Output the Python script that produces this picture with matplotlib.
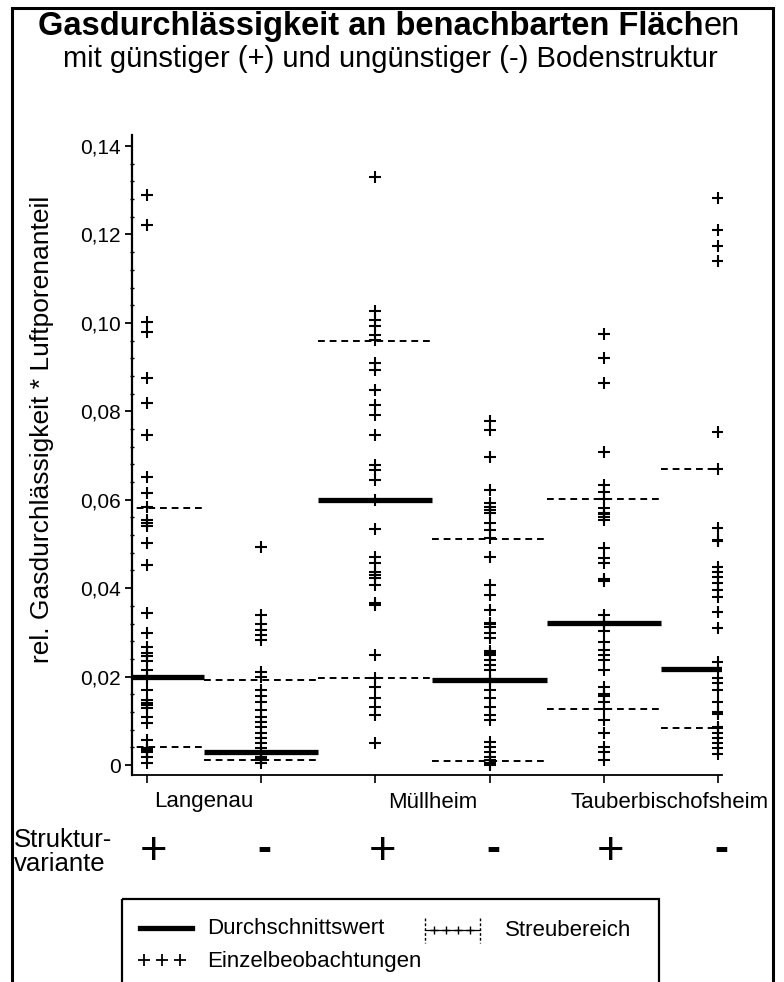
import matplotlib
matplotlib.use('Agg')
import matplotlib.pyplot as plt
import matplotlib.transforms as mtransforms
from matplotlib.patches import Rectangle

plt.rcParams['font.family'] = ['Liberation Sans', 'DejaVu Sans']

# Standorte und Strukturvarianten
sites = ['Langenau', 'Müllheim', 'Tauberbischofsheim']
variants = ['+', '-', '+', '-', '+', '-']
positions = [1, 2, 3, 4, 5, 6]

# Einzelbeobachtungen je Variante
lang_p = [0.129, 0.1222, 0.1003, 0.098, 0.0875, 0.0818, 0.0747, 0.0652, 0.0615,
          0.0583, 0.0554, 0.0548, 0.0541, 0.0503, 0.0452, 0.0343, 0.0299, 0.0268,
          0.0253, 0.0246, 0.0236, 0.0215, 0.0200, 0.0196, 0.017, 0.0147, 0.0140,
          0.0135, 0.0128, 0.0109, 0.0094, 0.0057, 0.0038, 0.0034, 0.0030, 0.0019,
          0.0005]
lang_m = [0.0493, 0.0339, 0.032, 0.0305, 0.0294, 0.0283, 0.0211, 0.02, 0.017,
          0.0155, 0.0143, 0.0124, 0.0109, 0.0098, 0.0087, 0.0072, 0.006, 0.0049,
          0.0038, 0.0026, 0.0018, 0.0015, 0.0011, 0.0004]
mull_p = [0.1331, 0.1026, 0.1007, 0.0992, 0.0973, 0.0962, 0.0909, 0.0894, 0.0848,
          0.0814, 0.0792, 0.0747, 0.0679, 0.0667, 0.0645, 0.060, 0.0534, 0.0471,
          0.0456, 0.0437, 0.043, 0.0422, 0.0407, 0.0366, 0.0362, 0.0249, 0.0196,
          0.0177, 0.0151, 0.0132, 0.0113, 0.0049]
mull_m = [0.0777, 0.0758, 0.0697, 0.0622, 0.0592, 0.0584, 0.0577, 0.0569, 0.0547,
          0.0532, 0.0513, 0.0471, 0.0407, 0.0385, 0.0351, 0.0322, 0.0318, 0.0313,
          0.0298, 0.0287, 0.0258, 0.0254, 0.0249, 0.0238, 0.0226, 0.0215, 0.0195,
          0.0190, 0.017, 0.0151, 0.0132, 0.0113, 0.0102, 0.0053, 0.0041, 0.003,
          0.0019, 0.0011, 0.0005, 0.0]
taub_p = [0.0975, 0.092, 0.0864, 0.0707, 0.0633, 0.0618, 0.0601, 0.0581, 0.0571,
          0.0567, 0.0562, 0.0554, 0.049, 0.0468, 0.0456, 0.0421, 0.0417, 0.0339,
          0.0324, 0.0320, 0.0302, 0.0279, 0.026, 0.0249, 0.0238, 0.0215, 0.0177,
          0.0160, 0.0156, 0.0143, 0.0126, 0.0102, 0.0072, 0.0041, 0.003, 0.0011]
taub_m = [0.1282, 0.121, 0.1173, 0.1139, 0.0754, 0.0669, 0.0536, 0.051, 0.0506,
          0.0449, 0.0437, 0.0426, 0.0411, 0.0396, 0.0381, 0.0345, 0.0309, 0.0234,
          0.0196, 0.0185, 0.017, 0.0143, 0.0119, 0.0115, 0.0087, 0.0083, 0.0072,
          0.006, 0.0049, 0.0038, 0.0026]
observations = [lang_p, lang_m, mull_p, mull_m, taub_p, taub_m]

# Durchschnittswert und Streubereich
means = [0.0198, 0.003, 0.060, 0.0192, 0.0322, 0.0217]
range_upper = [0.0582, 0.0192, 0.0959, 0.0511, 0.0601, 0.0669]
range_lower = [0.0041, 0.0011, 0.0196, 0.001, 0.0126, 0.0083]

yticks = [0, 0.02, 0.04, 0.06, 0.08, 0.10, 0.12, 0.14]
yticklabels = ['0', '0,02', '0,04', '0,06', '0,08', '0,10', '0,12', '0,14']

W, H = 784, 982
fig = plt.figure(figsize=(W / 100, H / 100), dpi=100)

ax = fig.add_axes([132 / W, 1 - 775 / H, (722 - 132) / W, (775 - 135) / H])

for p, obs in zip(positions, observations):
    ax.plot([p] * len(obs), obs, linestyle='none', marker='+', markersize=9,
            markeredgewidth=1.5, color='black', zorder=3)

for p, m, hi, lo in zip(positions, means, range_upper, range_lower):
    ax.hlines(m, p - 0.5, p + 0.5, colors='black', linewidth=3.8, zorder=4)
    ax.hlines([hi, lo], p - 0.5, p + 0.5, colors='black', linewidth=1.4,
              linestyles=(0, (3.5, 2.5)), zorder=2)

ax.set_xlim(0.869, 6.035)
ax.set_ylim(-0.00226, 0.1425)
ax.set_yticks(yticks)
ax.set_yticklabels(yticklabels, fontsize=15)
ax.set_yticks([i * 0.004 for i in range(36)], minor=True)
ax.tick_params(axis='y', which='major', direction='out', length=5, width=1.3, pad=3)
ax.tick_params(axis='y', which='minor', direction='inout', length=3, width=1.0)
ax.set_xticks(positions)
ax.set_xticklabels([])
ax.tick_params(axis='x', direction='out', length=6, width=1.2)
for s in ['top', 'right']:
    ax.spines[s].set_visible(False)
ax.spines['left'].set_linewidth(1.6)
ax.spines['bottom'].set_linewidth(1.3)

# Standortnamen und Strukturvarianten unter der Achse
trans = mtransforms.blended_transform_factory(ax.transData, fig.transFigure)
site_x = [1.5, 3.5, 5.58]
for sx, name in zip(site_x, sites):
    ax.text(sx, 1 - 802 / H, name, transform=trans, ha='center', va='center',
            fontsize=16)
for p, v in zip(positions, variants):
    if v == '+':
        ax.text(p + 0.06, 1 - 852 / H, '+', transform=trans, ha='center',
                va='center', fontsize=34)
    else:
        ax.text(p + 0.03, 1 - 850 / H, '-', transform=trans, ha='center',
                va='center', fontsize=30, fontweight='bold')

fig.text(14 / W, 1 - 852 / H, 'Struktur-\nvariante', ha='left', va='center',
         fontsize=18.5, linespacing=1.05)

fig.text(42 / W, 1 - 429 / H, 'rel. Gasdurchlässigkeit * Luftporenanteil',
         rotation=90, ha='center', va='center', fontsize=19)

# Titel (letzte Buchstaben im Original nicht fett)
t1 = fig.text(38 / W, 1 - 35 / H, 'Gasdurchlässigkeit an benachbarten Fläch',
              ha='left', va='baseline', fontsize=23.5, fontweight='bold')
fig.canvas.draw()
bb = t1.get_window_extent()
fig.text(bb.x1 / W, 1 - 35 / H, 'en', ha='left', va='baseline', fontsize=23.5)
fig.text(390 / W, 1 - 67 / H, 'mit günstiger (+) und ungünstiger (-) Bodenstruktur',
         ha='center', va='baseline', fontsize=21)

# Rahmen um die ganze Grafik
fig.patches.append(Rectangle((12 / W, -0.05), (773 - 12) / W, 1.05 - 8 / H,
                             transform=fig.transFigure, fill=False,
                             edgecolor='black', linewidth=2.2))

# Legende
lax = fig.add_axes([0, 0, 1, 1], zorder=-1)
lax.set_xlim(0, W)
lax.set_ylim(H, 0)
lax.axis('off')
lax.add_patch(Rectangle((122, 899), 659 - 122, 120, fill=False,
                        edgecolor='black', linewidth=1.6))
lax.plot([140, 192], [928, 928], color='black', linewidth=3.8)
lax.text(207, 929, 'Durchschnittswert', ha='left', va='center', fontsize=16)
lax.plot([144, 162, 180], [960, 960, 960], linestyle='none', marker='+',
         markersize=9, markeredgewidth=1.3, color='black')
lax.text(207, 961, 'Einzelbeobachtungen', ha='left', va='center', fontsize=16)
lax.plot([425, 425], [918, 943], color='black', linewidth=1.0, linestyle=(0, (2, 1.5)))
lax.plot([480, 480], [918, 943], color='black', linewidth=1.0, linestyle=(0, (2, 1.5)))
lax.plot([425, 480], [930, 930], color='black', linewidth=0.9)
lax.plot([434, 446, 458, 470], [930, 930, 930, 930], linestyle='none', marker='+',
         markersize=6, markeredgewidth=1.0, color='black')
lax.text(505, 931, 'Streubereich', ha='left', va='center', fontsize=16)

fig.savefig('out.png', dpi=100)
